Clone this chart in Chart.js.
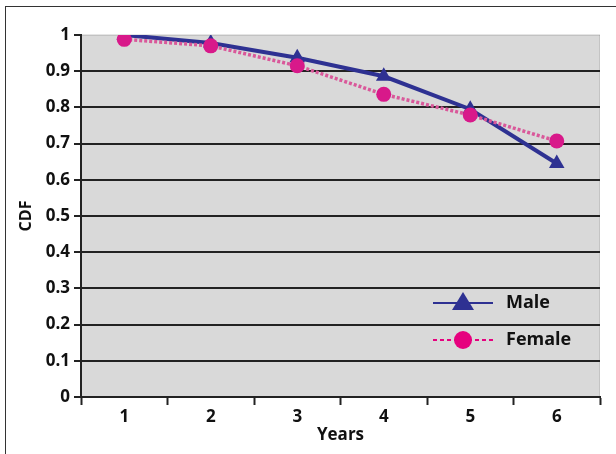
<!DOCTYPE html>
<html lang="en">
<head>
    <meta charset="UTF-8">
    <title>CDF by Years</title>
    <script src="https://cdn.jsdelivr.net/npm/chart.js"></script>
    <style>
        html, body { margin: 0; padding: 0; background: #fff; }
        #wrap { position: relative; width: 616px; height: 454px; overflow: hidden; }
        #frame { position: absolute; left: 5px; top: 6px; width: 700px; height: 600px;
                 border-left: 1.5px solid #333; border-top: 1.5px solid #333; }
        #cdfChart { position: absolute; left: 0; top: 0; }
    </style>
</head>
<body>
<div id="wrap">
    <div id="frame"></div>
    <canvas id="cdfChart" width="616" height="454"></canvas>
</div>

<script>
    // chart values
    const years = ['1', '2', '3', '4', '5', '6'];
    const male = [1.0, 0.978, 0.937, 0.886, 0.795, 0.645];
    const female = [0.988, 0.970, 0.915, 0.836, 0.779, 0.707];
    const yTicks = ['0', '0.1', '0.2', '0.3', '0.4', '0.5', '0.6', '0.7', '0.8', '0.9', '1'];

    const FONT = '"Open Sans", sans-serif';

    // grey plot background
    const plotBg = {
        id: 'plotBg',
        beforeDraw(chart) {
            const a = chart.chartArea, ctx = chart.ctx;
            ctx.save();
            ctx.fillStyle = '#d9d9d9';
            ctx.fillRect(a.left, a.top, a.right - a.left, a.bottom - a.top);
            ctx.strokeStyle = '#c4c4c4';
            ctx.lineWidth = 1;
            ctx.beginPath();
            ctx.moveTo(a.right - 0.5, a.top);
            ctx.lineTo(a.right - 0.5, a.bottom);
            ctx.stroke();
            ctx.restore();
        }
    };

    // legend inside the plot, lower right
    const innerLegend = {
        id: 'innerLegend',
        afterDatasetsDraw(chart) {
            const a = chart.chartArea, ctx = chart.ctx;
            const x0 = a.right - 167, x1 = a.right - 107, mx = a.right - 137, tx = a.right - 94;
            const rows = [
                { y: a.top + 268, label: 'Male' },
                { y: a.top + 305, label: 'Female' }
            ];
            ctx.save();
            // Male
            ctx.strokeStyle = '#2e3192';
            ctx.lineWidth = 2;
            ctx.beginPath();
            ctx.moveTo(x0, rows[0].y);
            ctx.lineTo(x1, rows[0].y);
            ctx.stroke();
            ctx.fillStyle = '#2e3192';
            ctx.beginPath();
            ctx.moveTo(mx, rows[0].y - 11);
            ctx.lineTo(mx + 11, rows[0].y + 7);
            ctx.lineTo(mx - 11, rows[0].y + 7);
            ctx.closePath();
            ctx.fill();
            // Female
            ctx.strokeStyle = '#e6007e';
            ctx.setLineDash([4, 3]);
            ctx.beginPath();
            ctx.moveTo(x0, rows[1].y);
            ctx.lineTo(x1, rows[1].y);
            ctx.stroke();
            ctx.setLineDash([]);
            ctx.fillStyle = '#e6007e';
            ctx.beginPath();
            ctx.arc(mx, rows[1].y, 9, 0, Math.PI * 2);
            ctx.fill();
            // labels
            ctx.fillStyle = '#111';
            ctx.font = 'bold 18px ' + FONT;
            ctx.textBaseline = 'middle';
            rows.forEach(r => ctx.fillText(r.label, tx, r.y));
            ctx.restore();
        }
    };

    new Chart(document.getElementById('cdfChart').getContext('2d'), {
        type: 'line',
        data: {
            labels: years,
            datasets: [
                {
                    label: 'Male',
                    data: male,
                    borderColor: '#2e3192',
                    backgroundColor: '#2e3192',
                    borderWidth: 4,
                    pointStyle: 'triangle',
                    pointRadius: 9,
                    pointBorderWidth: 0,
                    tension: 0,
                    order: 2
                },
                {
                    label: 'Female',
                    data: female,
                    borderColor: '#d9589a',
                    backgroundColor: '#d8198a',
                    borderWidth: 3.5,
                    borderDash: [3, 2],
                    pointStyle: 'circle',
                    pointRadius: 7.5,
                    pointBorderWidth: 0,
                    tension: 0,
                    order: 1
                }
            ]
        },
        options: {
            responsive: false,
            animation: false,
            layout: { padding: { left: 0, right: 16, top: 35, bottom: 0 } },
            plugins: {
                legend: { display: false },
                tooltip: { enabled: false }
            },
            scales: {
                x: {
                    offset: true,
                    grid: {
                        offset: true,
                        drawOnChartArea: false,
                        tickLength: 8,
                        tickColor: '#222',
                        tickWidth: 2
                    },
                    border: { color: '#222', width: 2 },
                    ticks: {
                        color: '#111',
                        font: { family: FONT, size: 17, weight: 'bold' },
                        padding: 2
                    },
                    title: {
                        display: true,
                        text: 'Years',
                        color: '#111',
                        font: { family: FONT, size: 17, weight: 'bold' },
                        padding: { top: 0, bottom: 9 }
                    },
                    afterFit(scale) { scale.height = 57; }
                },
                y: {
                    min: 0,
                    max: 1,
                    grid: {
                        color: ctx => ctx.tick && ctx.tick.value === 1 ? 'rgba(0,0,0,0.1)' : '#222',
                        lineWidth: 2,
                        tickLength: 7,
                        tickColor: '#222'
                    },
                    border: { color: '#222', width: 2 },
                    ticks: {
                        stepSize: 0.1,
                        color: '#111',
                        font: { family: FONT, size: 17, weight: 'bold' },
                        padding: 4,
                        callback: (v, i) => yTicks[i]
                    },
                    title: {
                        display: true,
                        text: 'CDF',
                        color: '#111',
                        font: { family: FONT, size: 16, weight: 'bold' },
                        padding: { top: 17, bottom: 0 }
                    },
                    afterFit(scale) { scale.width = 81; }
                }
            }
        },
        plugins: [plotBg, innerLegend]
    });
</script>
</body>
</html>
